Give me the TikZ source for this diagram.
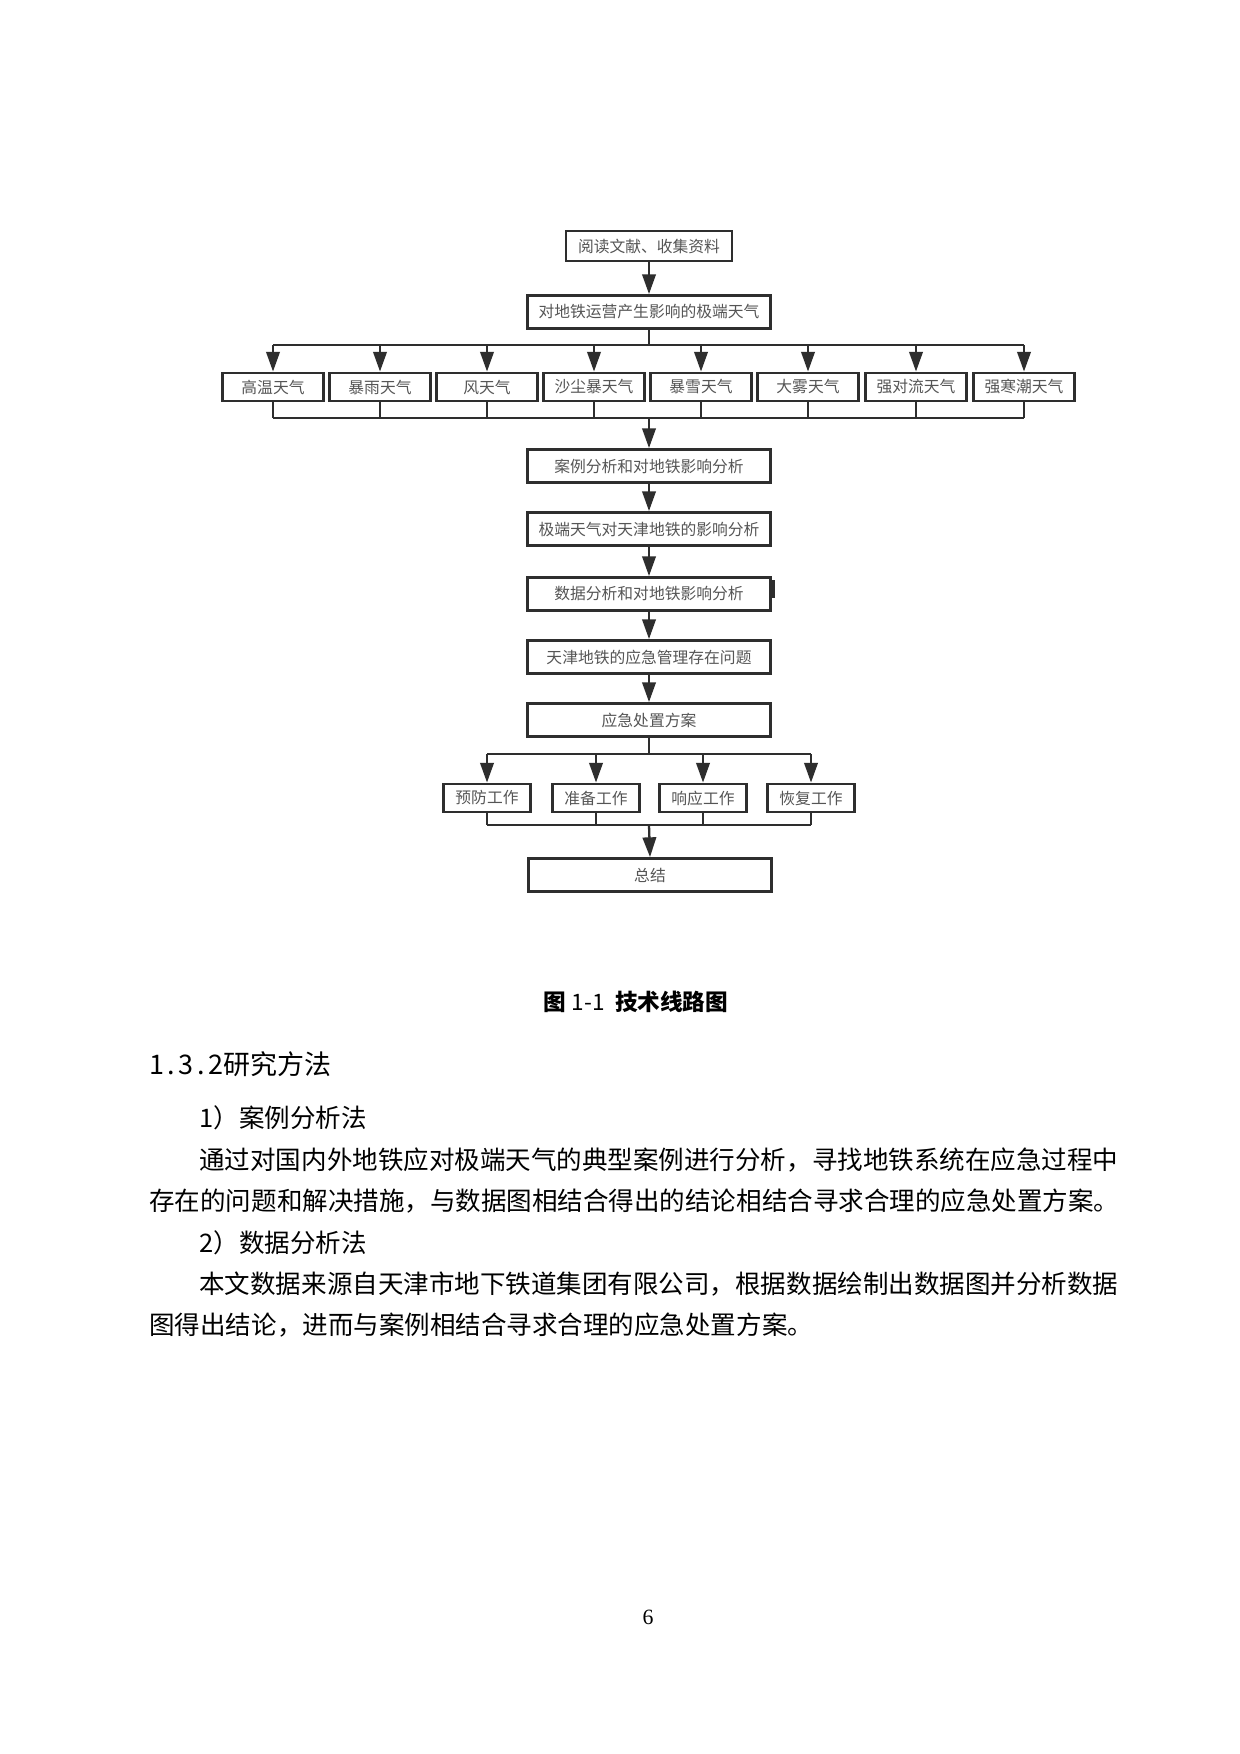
\documentclass[tikz,border=0pt]{standalone}
\usepackage{fontspec}
\setmainfont{Liberation Serif}
\newfontfamily\cjk{Noto Sans CJK SC}
\usetikzlibrary{arrows.meta}
\newcommand\pxunit{0.16935mm}
\definecolor{boxline}{HTML}{2E2E2E}
\definecolor{boxtext}{HTML}{555555}
\begin{document}
\begin{tikzpicture}[x=0.16935mm,y=-0.16935mm,
  box/.style={draw=boxline, line width=1.4pt, inner sep=0pt, text=boxtext,
    font=\cjk\fontsize{7.6}{9}\selectfont},
  mainbox/.style={box, minimum width=243*\pxunit, minimum height=33*\pxunit},
  topbox/.style={box, minimum width=166*\pxunit, minimum height=30*\pxunit},
  wbox/.style={box, minimum width=101*\pxunit, minimum height=28*\pxunit},
  sbox/.style={box, minimum width=87*\pxunit, minimum height=28*\pxunit},
  conn/.style={draw=boxline, line width=1.1pt},
  arr/.style={conn, -{Triangle[length=9.5pt,width=6.5pt]}},
  bodytext/.style={anchor=west, inner sep=0pt, font=\cjk\fontsize{12.3}{14}\selectfont},
]
\fill[white] (0,0) rectangle (1240,1754);
\useasboundingbox (0,0) rectangle (1240,1754);

% top part
\node[topbox] (top) at (649,246) {阅读文献、收集资料};
\node[mainbox] (b2) at (649,312) {对地铁运营产生影响的极端天气};
\draw[arr] (top) -- (b2);

\node[wbox] (w1) at (273,387) {高温天气};
\node[wbox] (w2) at (380,387) {暴雨天气};
\node[wbox] (w3) at (487,387) {风天气};
\node[wbox] (w4) at (594,387) {沙尘暴天气};
\node[wbox] (w5) at (701,387) {暴雪天气};
\node[wbox] (w6) at (808,387) {大雾天气};
\node[wbox] (w7) at (916,387) {强对流天气};
\node[wbox] (w8) at (1024,387) {强寒潮天气};

\coordinate (tb) at (649,345);
\draw[conn] (b2.south) -- (tb);
\draw[conn] (w1.north |- tb) -- (w8.north |- tb);
\foreach \i in {1,...,8} { \draw[arr] (w\i.north |- tb) -- (w\i.north); }

\node[mainbox] (c1) at (649,466) {案例分析和对地铁影响分析};
\coordinate (bb) at (649,418);
\foreach \i in {1,...,8} { \draw[conn] (w\i.south) -- (w\i.south |- bb); }
\draw[conn] (w1.south |- bb) -- (w8.south |- bb);
\draw[arr] (bb) -- (c1.north);

\node[mainbox] (c2) at (649,529) {极端天气对天津地铁的影响分析};
\node[mainbox] (c3) at (649,594) {数据分析和对地铁影响分析};
\node[mainbox] (c4) at (649,657) {天津地铁的应急管理存在问题};
\node[mainbox] (c5) at (649,720) {应急处置方案};
\fill[boxline] (770,580) rectangle (775,598);
\draw[arr] (c1) -- (c2);
\draw[arr] (c2) -- (c3);
\draw[arr] (c3) -- (c4);
\draw[arr] (c4) -- (c5);

\node[sbox] (s1) at (487,798) {预防工作};
\node[sbox] (s2) at (596,798) {准备工作};
\node[sbox] (s3) at (703,798) {响应工作};
\node[sbox] (s4) at (811,798) {恢复工作};

\coordinate (tb2) at (649,754);
\draw[conn] (c5.south) -- (tb2);
\draw[conn] (s1.north |- tb2) -- (s4.north |- tb2);
\foreach \i in {1,...,4} { \draw[arr] (s\i.north |- tb2) -- (s\i.north); }

\node[mainbox] (end) at (650,875) {总结};
\coordinate (bb2) at (649,825);
\foreach \i in {1,...,4} { \draw[conn] (s\i.south) -- (s\i.south |- bb2); }
\draw[conn] (s1.south |- bb2) -- (s4.south |- bb2);
\draw[arr] (bb2) -- (end.north);

% caption and text
\node[inner sep=0pt, font=\cjk\bfseries\fontsize{10.9}{12}\selectfont] (cap) at (636,1002) {图 {\mdseries 1-1}\ \ 技术线路图};
\node[anchor=west, inner sep=0pt, font=\cjk\fontsize{13}{14}\selectfont] (head) at (149,1064) {{\addfontfeature{LetterSpace=13}1.3.2}研究方法};

\node[bodytext] (l1) at (199,1118) {1）案例分析法};
\node[bodytext] (l2) at (199,1160) {通过对国内外地铁应对极端天气的典型案例进行分析，寻找地铁系统在应急过程中};
\node[bodytext] (l3) at (149,1201) {存在的问题和解决措施，与数据图相结合得出的结论相结合寻求合理的应急处置方案。};
\node[bodytext] (l4) at (199,1243) {2）数据分析法};
\node[bodytext] (l5) at (199,1284) {本文数据来源自天津市地下铁道集团有限公司，根据数据绘制出数据图并分析数据};
\node[bodytext] (l6) at (149,1325) {图得出结论，进而与案例相结合寻求合理的应急处置方案。};

\node[inner sep=0pt, font=\fontsize{10.5}{12}\selectfont] (pg) at (648,1617) {6};
\end{tikzpicture}
\end{document}
